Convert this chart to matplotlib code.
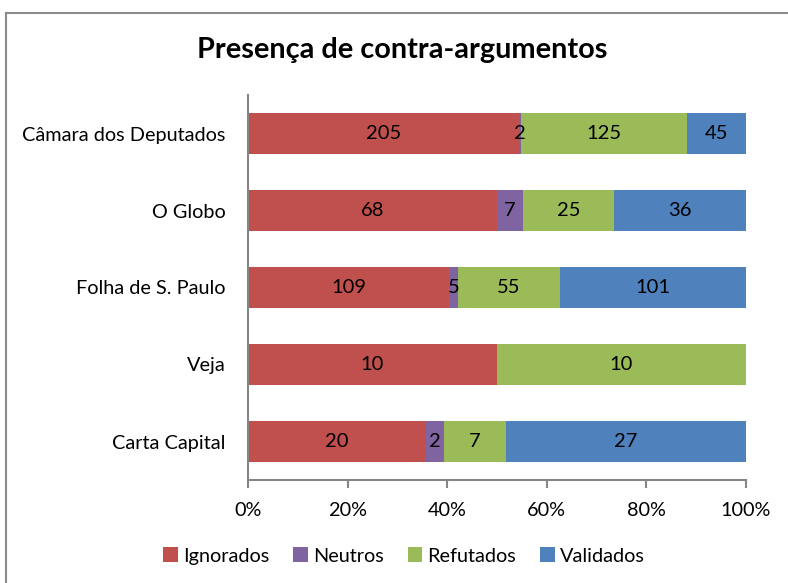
import numpy as np
import matplotlib
matplotlib.use("Agg")
import matplotlib.pyplot as plt
from matplotlib.lines import Line2D

# data, top to bottom as in the chart
categorias = ["Câmara dos Deputados", "O Globo", "Folha de S. Paulo", "Veja", "Carta Capital"]
ignorados = [205, 68, 109, 10, 20]
neutros = [2, 7, 5, 0, 2]
refutados = [125, 25, 55, 10, 7]
validados = [45, 36, 101, 0, 27]
series_nomes = ["Ignorados", "Neutros", "Refutados", "Validados"]
cores = ["#C0504D", "#8064A2", "#9BBB59", "#4F81BD"]
xticks_labels = ["0%", "20%", "40%", "60%", "80%", "100%"]

plt.rcParams['font.family'] = ['Lato', 'DejaVu Sans']

valores = np.array([ignorados, neutros, refutados, validados], dtype=float)
totais = valores.sum(axis=0)
pct = valores / totais

fig = plt.figure(figsize=(7.88, 5.83), dpi=100)
ax = fig.add_axes([248/788, 1-480/583, (746-248)/788, (480-95)/583])

y = np.arange(len(categorias))[::-1]
esquerda = np.zeros(len(categorias))
for i in range(len(series_nomes)):
    ax.barh(y, pct[i], left=esquerda, height=0.52, color=cores[i], label=series_nomes[i])
    for j in range(len(categorias)):
        if valores[i, j] > 0:
            ax.text(esquerda[j] + pct[i, j]/2, y[j], "%d" % valores[i, j],
                    ha='center', va='center', fontsize=14.5, color='black')
    esquerda = esquerda + pct[i]

ax.set_xlim(0, 1)
ax.set_ylim(-0.5, len(categorias) - 0.5)
ax.set_yticks(y)
ax.set_yticklabels(categorias, fontsize=14.3)
ax.tick_params(axis='y', length=0, pad=16)
ax.set_xticks(np.linspace(0, 1, 6))
ax.set_xticklabels(xticks_labels, fontsize=14.3)
ax.tick_params(axis='x', length=6, width=1.5, color='#868686', pad=10)
for s in ['top', 'right']:
    ax.spines[s].set_visible(False)
for s in ['left', 'bottom']:
    ax.spines[s].set_color('#868686')
    ax.spines[s].set_linewidth(1.5)

fig.text(402/788, 1-50/583, "Presença de contra-argumentos", ha='center', va='center',
         fontsize=20.8, fontweight='bold')

fig.legend(loc='center', bbox_to_anchor=(404/788, 1-556/583), ncol=4, frameon=False,
           fontsize=14.3, handlelength=0.75, handleheight=0.75, handletextpad=0.25,
           columnspacing=1.2)

# chart border (only top and left visible in the original crop)
fig.add_artist(Line2D([6/788, 6/788], [0, 1-13/583], color='#8c8c8c', linewidth=1.5,
                      transform=fig.transFigure))
fig.add_artist(Line2D([6/788, 1], [1-13/583, 1-13/583], color='#8c8c8c', linewidth=1.5,
                      transform=fig.transFigure))

plt.savefig('out.png', dpi=100)
